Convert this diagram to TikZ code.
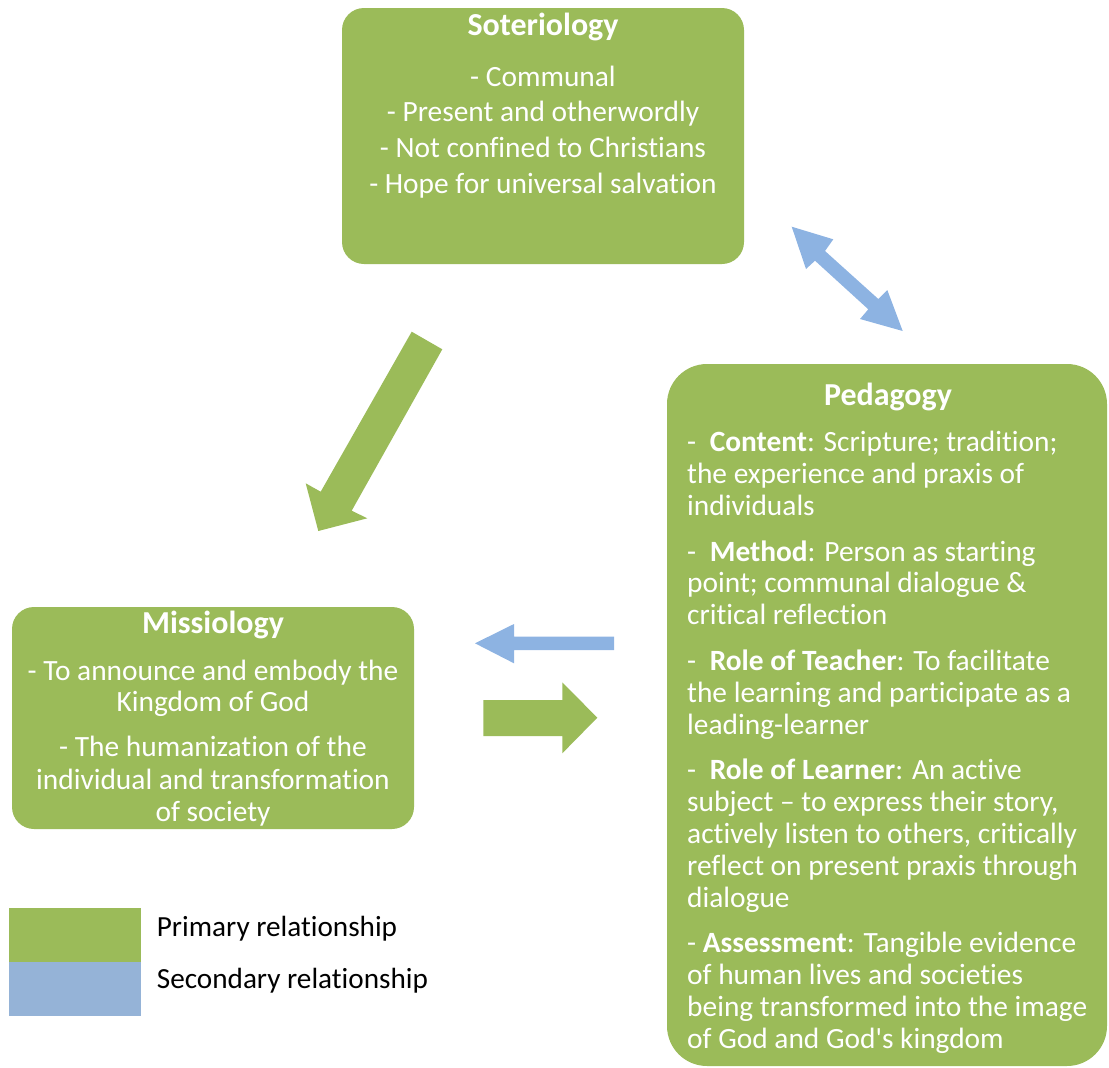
\documentclass[tikz,border=0pt]{standalone}
\usepackage{fontspec}
\setmainfont{Carlito}[Ligatures={NoCommon,TeXOff}]
\definecolor{grn}{HTML}{9BBB59}
\definecolor{blu}{HTML}{8DB3E2}
\definecolor{legblu}{HTML}{95B3D7}
\tikzset{
  box/.style={fill=grn, draw=none, rounded corners=22pt, inner sep=0pt, outer sep=0pt, anchor=north west},
  wt/.style={text=white, font=\fontsize{29.4}{32}\selectfont, inner sep=0pt},
  ttl/.style={text=white, font=\fontsize{32}{36}\selectfont\bfseries, inner sep=0pt, anchor=base},
  ctr/.style={wt, anchor=base},
  lft/.style={wt, anchor=base west},
  blk/.style={text=black, font=\fontsize{29.2}{32}\selectfont, inner sep=0pt, anchor=base west},
  greenarrow/.style={fill=grn, draw=none},
  bluearrow/.style={fill=blu, draw=none},
  legbox/.style={draw=none, inner sep=0pt, outer sep=0pt, anchor=north west, minimum width=132pt, minimum height=54pt},
}
\newcommand{\dsh}{\makebox[22.6pt][l]{-}}
\begin{document}
\begin{tikzpicture}[x=1pt,y=-1pt]
\useasboundingbox (0,0) rectangle (1109,1068);
% boxes
\node[box, minimum width=402pt, minimum height=256pt] (soter) at (342,8) {};
\node[box, minimum width=402pt, minimum height=222pt] (missio) at (12,607) {};
\node[box, rounded corners=40pt, minimum width=440pt, minimum height=702pt] (peda) at (667,364) {};

% arrows
\fill[greenarrow] (411.7,331.7) -- (442.3,349.3) -- (351.7,510.7) -- (367.3,518.3) -- (318.3,531) -- (305.7,483.3) -- (320.7,491.7) -- cycle;
\fill[bluearrow] (791.7,226.7) -- (833.3,239.3) -- (825,251) -- (878.3,299) -- (887.3,290) -- (902.7,331) -- (860,319) -- (868.3,309.3) -- (815,260.7) -- (806,269) -- cycle;
\fill[bluearrow] (475,643.3) -- (514,624) -- (514,636.7) -- (614,636.7) -- (614,650) -- (514,650) -- (514,663.3) -- cycle;
\fill[greenarrow] (483.3,700) -- (562.3,700) -- (562.3,682.3) -- (597.3,717.7) -- (562.3,753.3) -- (562.3,736) -- (483.3,736) -- cycle;

% Soteriology text
\node[ttl] (st) at (543,35) {Soteriology};
\node[ctr] (s1) at (543,86) {- Communal};
\node[ctr] (s2) at (543,121.7) {- Present and otherwordly};
\node[ctr] (s3) at (543,157.3) {- Not confined to Christians};
\node[ctr] (s4) at (543,193.3) {- Hope for universal salvation};

% Missiology text
\node[ttl] (mt) at (213,633.3) {Missiology};
\node[ctr] (m1) at (213,680) {- To announce and embody the};
\node[ctr] (m2) at (213,711.7) {Kingdom of God};
\node[ctr] (m3) at (213,756.7) {- The humanization of the};
\node[ctr] (m4) at (213,789) {individual and transformation};
\node[ctr] (m5) at (213,821) {of society};

% Pedagogy text
\node[ttl] (pt) at (888,405) {Pedagogy};
\node[lft] (p1) at (687,451.7) {\dsh\textbf{Content}: Scripture; tradition;};
\node[lft] (p2) at (687,483.5) {the experience and praxis of};
\node[lft] (p3) at (687,515.3) {individuals};
\node[lft] (p4) at (687,561) {\dsh\textbf{Method}: Person as starting};
\node[lft] (p5) at (687,592.8) {point; communal dialogue \&};
\node[lft] (p6) at (687,624.8) {critical reflection};
\node[lft] (p7) at (687,670) {\dsh\textbf{Role of Teacher}: To facilitate};
\node[lft] (p8) at (687,702.2) {the learning and participate as a};
\node[lft] (p9) at (687,734.3) {leading-learner};
\node[lft] (p10) at (687,779.3) {\dsh\textbf{Role of Learner}: An active};
\node[lft] (p11) at (687,811.6) {subject – to express their story,};
\node[lft] (p12) at (687,843.4) {actively listen to others, critically};
\node[lft] (p13) at (687,875.6) {reflect on present praxis through};
\node[lft] (p14) at (687,907.7) {dialogue};
\node[lft] (p15) at (687,952.3) {- \textbf{Assessment}: Tangible evidence};
\node[lft] (p16) at (687,984.3) {of human lives and societies};
\node[lft] (p17) at (687,1016.5) {being transformed into the image};
\node[lft] (p18) at (687,1048.4) {of God and God's kingdom};

% legend
\node[legbox, fill=grn] (lg1) at (9,908) {};
\node[legbox, fill=legblu] (lg2) at (9,962) {};
\node[blk] (lt1) at (156.7,936) {Primary relationship};
\node[blk] (lt2) at (156.7,988) {Secondary relationship};
\end{tikzpicture}
\end{document}
